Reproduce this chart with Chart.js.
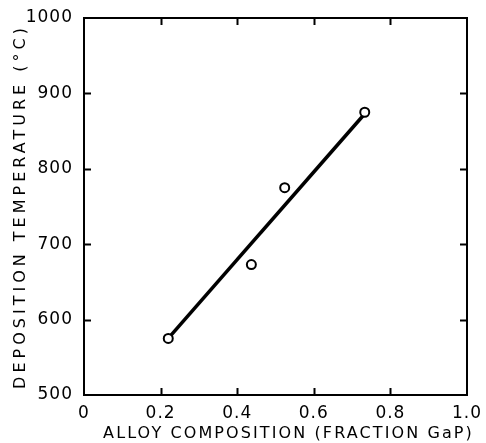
<!DOCTYPE html>
<html>
<head>
<meta charset="utf-8">
<script src="https://cdn.jsdelivr.net/npm/chart.js@4/dist/chart.umd.min.js"></script>
<style>
  html, body { margin: 0; padding: 0; background: #fff; }
  #wrap { width: 486px; height: 443px; }
</style>
</head>
<body>
<div id="wrap"><canvas id="c" width="486" height="443"></canvas></div>
<script>
// Measured points: alloy composition (fraction GaP) vs deposition temperature (°C)
const compX = [0.22, 0.437, 0.524, 0.733];
const tempY = [575, 673, 775, 875];
// Fitted straight line end points
const fitX = [0.22, 0.733];
const fitY = [575, 873];
// Tick values
const xTicks = [0, 0.2, 0.4, 0.6, 0.8, 1.0];
const yTicks = [500, 600, 700, 800, 900, 1000];
const xTitle = 'ALLOY COMPOSITION (FRACTION GaP)';
const yTitle = 'DEPOSITION TEMPERATURE (°C)';

const FONT = 'DejaVu Sans';

// give each scale its own letter spacing for labels and title (and a title shift)
function spaced(s, labelSp, titleSp, shiftX) {
  if (s._spacedDone) return;
  s._spacedDone = true;
  const dl = s.drawLabels, dt = s.drawTitle;
  s.drawLabels = function (...a) {
    const ctx = this.ctx, old = ctx.letterSpacing;
    ctx.letterSpacing = labelSp; dl.apply(this, a); ctx.letterSpacing = old;
  };
  s.drawTitle = function (...a) {
    const ctx = this.ctx;
    ctx.save();
    ctx.letterSpacing = titleSp;
    ctx.translate(shiftX || 0, 0);
    dt.apply(this, a);
    ctx.restore();
  };
}

const framePlugin = {
  id: 'frame',
  afterDatasetsDraw(chart) {
    const {ctx, chartArea: a, scales: {x, y}} = chart;
    ctx.save();
    ctx.strokeStyle = '#000';
    ctx.lineWidth = 2;
    ctx.strokeRect(a.left, a.top, a.right - a.left, a.bottom - a.top);
    ctx.beginPath();
    xTicks.slice(1, -1).forEach(v => {
      const px = Math.round(x.getPixelForValue(v)) + 0.5;
      ctx.moveTo(px, a.bottom); ctx.lineTo(px, a.bottom - 7);
      ctx.moveTo(px, a.top); ctx.lineTo(px, a.top + 7);
    });
    yTicks.slice(1, -1).forEach(v => {
      const py = Math.round(y.getPixelForValue(v)) + 0.5;
      ctx.moveTo(a.left, py); ctx.lineTo(a.left + 7, py);
      ctx.moveTo(a.right, py); ctx.lineTo(a.right - 7, py);
    });
    ctx.stroke();
    ctx.restore();
  }
};

new Chart(document.getElementById('c'), {
  type: 'scatter',
  data: {
    datasets: [
      {
        label: 'fit',
        data: fitX.map((v, i) => ({x: v, y: fitY[i]})),
        showLine: true,
        borderColor: '#000',
        borderWidth: 3.5,
        pointRadius: 0,
        order: 2
      },
      {
        label: 'measured',
        data: compX.map((v, i) => ({x: v, y: tempY[i]})),
        showLine: false,
        pointRadius: 4.5,
        pointBorderWidth: 2,
        pointBorderColor: '#000',
        pointBackgroundColor: '#fff',
        order: 1
      }
    ]
  },
  options: {
    responsive: false,
    animation: false,
    layout: { padding: { top: 18, right: 19, left: 0, bottom: 0 } },
    plugins: { legend: { display: false }, tooltip: { enabled: false } },
    scales: {
      x: {
        type: 'linear', min: 0, max: 1,
        afterBuildTicks: s => { s.ticks = xTicks.map(v => ({value: v})); },
        afterFit: s => { s.height = 48; spaced(s, '1px', '2.1px', 13); },
        grid: { display: false },
        border: { display: false },
        ticks: {
          color: '#000', padding: 0, maxRotation: 0,
          font: { family: FONT, size: 17 },
          callback: v => v === 0 ? '0' : Number(v).toFixed(1)
        },
        title: {
          display: true, text: xTitle, color: '#000',
          font: { family: FONT, size: 16 },
          padding: { top: 0, bottom: 0 }
        }
      },
      y: {
        type: 'linear', min: 500, max: 1000,
        afterBuildTicks: s => { s.ticks = yTicks.map(v => ({value: v})); },
        afterFit: s => { s.width = 84; spaced(s, '1px', '4px', 0); },
        grid: { display: false },
        border: { display: false },
        ticks: {
          color: '#000', padding: 3,
          font: { family: FONT, size: 17 },
          callback: v => String(v)
        },
        title: {
          display: true, text: yTitle, color: '#000',
          font: { family: FONT, size: 16 },
          padding: { top: 11, bottom: 0 }
        }
      }
    }
  },
  plugins: [framePlugin]
});
</script>
</body>
</html>
